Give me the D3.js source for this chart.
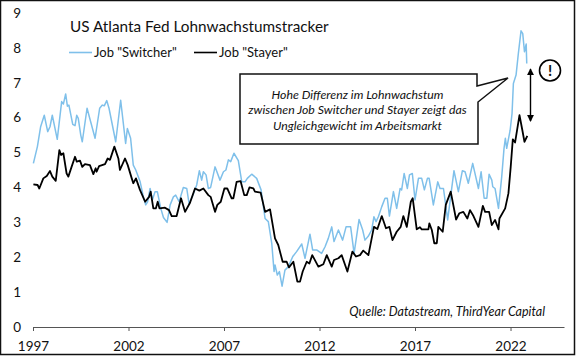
<!DOCTYPE html>
<html>
<head>
<meta charset="utf-8">
<style>
  html, body { margin: 0; padding: 0; background: #fff; }
  text { font-family: Lato, "Open Sans", sans-serif; fill: #111; }
</style>
<script src="https://cdn.jsdelivr.net/npm/d3@7"></script>
</head>
<body>
<svg id="chart"></svg>
<script>
const switcherDates = [1997.02,1997.23,1997.40,1997.59,1997.77,1997.89,1998.01,1998.27,1998.50,1998.59,1998.71,1998.80,1998.88,1999.08,1999.20,1999.29,1999.37,1999.50,1999.58,1999.83,2000.04,2000.25,2000.49,2000.63,2000.73,2000.86,2000.98,2001.33,2001.59,2001.85,2001.94,2002.11,2002.25,2002.38,2002.61,2002.78,2002.90,2003.00,2003.13,2003.25,2003.39,2003.51,2003.69,2003.83,2004.02,2004.18,2004.35,2004.47,2004.65,2004.87,2005.05,2005.17,2005.35,2005.57,2005.71,2005.83,2005.92,2006.06,2006.18,2006.30,2006.53,2006.79,2006.97,2007.10,2007.23,2007.35,2007.52,2007.75,2007.93,2008.10,2008.22,2008.45,2008.71,2008.94,2009.15,2009.32,2009.50,2009.62,2009.67,2009.79,2009.90,2010.04,2010.19,2010.37,2010.60,2010.80,2011.07,2011.24,2011.50,2011.64,2011.85,2012.11,2012.29,2012.46,2012.64,2012.76,2012.99,2013.21,2013.39,2013.63,2013.81,2014.07,2014.26,2014.38,2014.55,2014.73,2014.85,2014.96,2015.08,2015.26,2015.43,2015.55,2015.66,2015.87,2016.04,2016.22,2016.30,2016.43,2016.60,2016.71,2016.86,2017.00,2017.18,2017.35,2017.49,2017.65,2017.74,2017.96,2018.19,2018.31,2018.49,2018.71,2019.04,2019.27,2019.48,2019.62,2019.79,2020.02,2020.32,2020.46,2020.62,2020.76,2020.88,2021.02,2021.07,2021.19,2021.37,2021.54,2021.66,2021.73,2021.80,2021.98,2022.08,2022.15,2022.29,2022.41,2022.55,2022.64,2022.73,2022.82,2022.85];
const switcherValues = [4.69,5.17,5.74,6.07,5.60,5.74,6.07,5.38,6.46,6.39,6.68,6.33,6.36,5.81,5.77,6.07,5.98,5.50,5.31,6.27,5.84,5.41,6.27,6.36,6.34,6.49,6.27,5.31,6.50,5.26,5.69,5.41,4.64,4.50,4.16,3.73,3.50,3.59,3.97,3.64,3.88,3.88,3.40,3.14,3.00,3.50,3.73,3.78,3.59,4.00,3.97,3.54,3.75,4.07,4.48,4.21,4.45,4.36,3.97,4.00,4.59,4.21,4.45,4.50,4.79,4.74,4.98,4.77,4.16,4.16,4.26,4.38,4.26,3.93,3.11,3.02,2.40,1.59,1.78,1.49,1.59,1.17,1.63,1.73,2.02,2.16,2.38,1.97,2.66,2.21,2.21,2.11,2.30,2.54,2.87,2.45,2.78,2.49,2.87,2.87,2.11,3.08,2.78,2.49,2.60,2.78,3.16,3.02,3.16,3.45,3.69,3.69,3.18,3.88,3.40,3.97,3.93,4.40,3.97,4.36,4.40,3.64,4.26,4.26,3.93,4.26,4.26,3.50,4.16,3.97,3.97,3.07,4.48,3.88,4.48,4.45,4.12,4.69,3.97,4.45,3.69,3.69,4.38,4.21,4.02,3.97,3.40,4.31,5.12,5.41,5.12,5.64,6.12,6.98,7.22,7.84,8.49,8.41,7.89,8.11,7.55];

const stayerDates = [1997.02,1997.24,1997.33,1997.54,1997.72,1997.89,1998.01,1998.19,1998.38,1998.47,1998.59,1998.76,1998.85,1999.02,1999.20,1999.29,1999.46,1999.58,1999.72,1999.98,2000.16,2000.28,2000.33,2000.46,2000.77,2000.91,2001.03,2001.26,2001.47,2001.55,2001.82,2001.96,2002.17,2002.25,2002.39,2002.60,2002.87,2003.08,2003.16,2003.30,2003.43,2003.53,2003.62,2003.91,2004.12,2004.26,2004.52,2004.75,2004.96,2005.22,2005.48,2005.71,2005.92,2006.18,2006.30,2006.53,2006.65,2006.83,2007.02,2007.17,2007.40,2007.49,2007.66,2007.87,2008.06,2008.19,2008.33,2008.54,2008.62,2008.92,2009.15,2009.41,2009.67,2009.84,2010.07,2010.28,2010.40,2010.63,2010.84,2010.98,2011.12,2011.33,2011.47,2011.62,2011.94,2012.20,2012.38,2012.64,2012.76,2012.99,2013.16,2013.46,2013.72,2013.91,2014.12,2014.29,2014.56,2014.85,2015.03,2015.26,2015.48,2015.66,2015.82,2016.04,2016.25,2016.39,2016.57,2016.78,2016.88,2017.09,2017.26,2017.35,2017.70,2017.75,2017.88,2018.01,2018.14,2018.22,2018.45,2018.61,2018.87,2019.15,2019.32,2019.53,2019.74,2019.88,2020.06,2020.32,2020.55,2020.67,2020.88,2021.02,2021.19,2021.37,2021.42,2021.72,2021.89,2022.01,2022.12,2022.24,2022.47,2022.62,2022.73,2022.88];
const stayerValues = [4.09,4.07,3.97,4.26,4.33,4.47,4.31,4.19,5.07,4.93,4.98,4.40,4.31,4.59,4.88,4.74,4.77,4.59,4.67,4.64,4.38,4.55,4.45,4.61,4.67,4.83,4.79,5.17,4.83,4.50,4.83,4.64,4.26,4.12,4.26,3.93,3.59,3.73,3.88,3.40,3.40,3.59,3.40,3.42,3.35,3.18,3.18,3.69,3.30,3.56,3.97,3.91,3.97,3.78,3.73,3.30,3.50,3.59,3.97,3.97,3.69,3.69,4.16,4.18,3.78,3.78,4.00,3.97,3.88,3.85,3.30,3.37,2.54,2.35,1.87,1.87,1.71,1.87,1.30,1.30,1.59,1.87,1.82,2.06,1.73,1.80,2.06,1.73,1.92,1.97,2.06,1.59,2.16,2.02,2.06,2.19,2.06,2.87,2.81,3.18,2.83,2.87,2.49,2.73,2.87,3.18,2.87,3.59,3.69,2.80,2.86,2.80,2.80,2.97,2.78,2.40,2.40,2.87,2.73,3.50,3.88,3.08,3.26,3.30,3.11,3.35,3.18,2.87,3.47,3.30,3.30,2.92,3.07,2.80,3.11,3.40,3.83,4.59,5.38,5.29,6.07,5.64,5.31,5.48];

const yTicks = [0, 1, 2, 3, 4, 5, 6, 7, 8, 9];
const xTicks = [1997, 2002, 2007, 2012, 2017, 2022];
const titleText = "US Atlanta Fed Lohnwachstumstracker";
const calloutLines = [
  "Hohe Differenz im Lohnwachstum",
  "zwischen Job Switcher und Stayer zeigt das",
  "Ungleichgewicht im Arbeitsmarkt",
];
const sourceText = "Quelle: Datastream, ThirdYear Capital";

const width = 576, height = 356;
const blue = "#7fc0ea";

const svg = d3
  .select("#chart")
  .attr("width", width)
  .attr("height", height)
  .style("display", "block");

const x = d3.scaleLinear().domain([1997, 2024.8]).range([33, 564]);
const y = d3.scaleLinear().domain([0, 9]).range([327, 13]);

// frame
svg
  .append("rect")
  .attr("x", 0.5)
  .attr("y", 0.5)
  .attr("width", 574)
  .attr("height", 354)
  .attr("fill", "#fff")
  .attr("stroke", "#111")
  .attr("stroke-width", 1.5);

// axes
const xAxis = svg
  .append("g")
  .attr("transform", `translate(0,${y(0)})`)
  .call(d3.axisBottom(x).tickValues(xTicks).tickFormat(d3.format("d")).tickSize(4).tickSizeOuter(0).tickPadding(10));
xAxis.selectAll("path, line").attr("stroke", "#555");
xAxis.selectAll("text").attr("font-size", "13.5px").style("font-family", "Lato");

const yAxis = svg
  .append("g")
  .attr("transform", "translate(21,0)")
  .call(d3.axisLeft(y).tickValues(yTicks).tickSize(0).tickPadding(0));
yAxis.select(".domain").remove();
yAxis.selectAll("text").attr("font-size", "13.5px").style("font-family", "Lato");

// lines
const line = d3
  .line()
  .x((d) => x(d[0]))
  .y((d) => y(d[1]));

svg
  .append("path")
  .datum(d3.zip(switcherDates, switcherValues))
  .attr("fill", "none")
  .attr("stroke", blue)
  .attr("stroke-width", 1.5)
  .attr("stroke-linejoin", "round")
  .attr("d", line);

svg
  .append("path")
  .datum(d3.zip(stayerDates, stayerValues))
  .attr("fill", "none")
  .attr("stroke", "#000")
  .attr("stroke-width", 1.8)
  .attr("stroke-linejoin", "round")
  .attr("d", line);

// title + legend
svg
  .append("text")
  .attr("x", 70)
  .attr("y", 32)
  .attr("font-size", "15.3px")
  .text(titleText);

const legend = [
  { label: 'Job "Switcher"', color: blue, x0: 69 },
  { label: 'Job "Stayer"', color: "#000", x0: 194 },
];
legend.forEach((l) => {
  svg
    .append("line")
    .attr("x1", l.x0)
    .attr("x2", l.x0 + 23)
    .attr("y1", 52.5)
    .attr("y2", 52.5)
    .attr("stroke", l.color)
    .attr("stroke-width", 1.6);
  svg
    .append("text")
    .attr("x", l.x0 + 25)
    .attr("y", 57)
    .attr("font-size", "13px")
    .text(l.label);
});

// callout
svg
  .append("path")
  .attr("d", "M240,74 H477 V86 L508,78 L478,102 V144 H240 Z")
  .attr("fill", "#fff")
  .attr("stroke", "#111")
  .attr("stroke-width", 1.5);

calloutLines.forEach((t, i) => {
  svg
    .append("text")
    .attr("x", 357.5)
    .attr("y", 98.5 + i * 15.5)
    .attr("text-anchor", "middle")
    .attr("font-size", "12.3px")
    .attr("font-style", "italic")
    .text(t);
});

// double arrow and exclamation mark
const defs = svg.append("defs");
defs
  .append("marker")
  .attr("id", "head")
  .attr("viewBox", "0 0 8 8")
  .attr("refX", 7)
  .attr("refY", 4)
  .attr("markerWidth", 7)
  .attr("markerHeight", 7)
  .attr("markerUnits", "userSpaceOnUse")
  .attr("orient", "auto-start-reverse")
  .append("path")
  .attr("d", "M0,0 L8,4 L0,8 Z")
  .attr("fill", "#000");

svg
  .append("line")
  .attr("x1", 530.5)
  .attr("x2", 530.5)
  .attr("y1", 69)
  .attr("y2", 121)
  .attr("stroke", "#000")
  .attr("stroke-width", 1.4)
  .attr("marker-start", "url(#head)")
  .attr("marker-end", "url(#head)");

svg
  .append("circle")
  .attr("cx", 550)
  .attr("cy", 70.5)
  .attr("r", 10.5)
  .attr("fill", "#fff")
  .attr("stroke", "#000")
  .attr("stroke-width", 1.6);

svg
  .append("text")
  .attr("x", 550)
  .attr("y", 76)
  .attr("text-anchor", "middle")
  .attr("font-size", "15px")
  .attr("font-weight", "bold")
  .text("!");

// source
svg
  .append("text")
  .attr("x", 545)
  .attr("y", 316)
  .attr("text-anchor", "end")
  .attr("font-size", "12.5px")
  .attr("font-style", "italic")
  .text(sourceText);
</script>
</body>
</html>
